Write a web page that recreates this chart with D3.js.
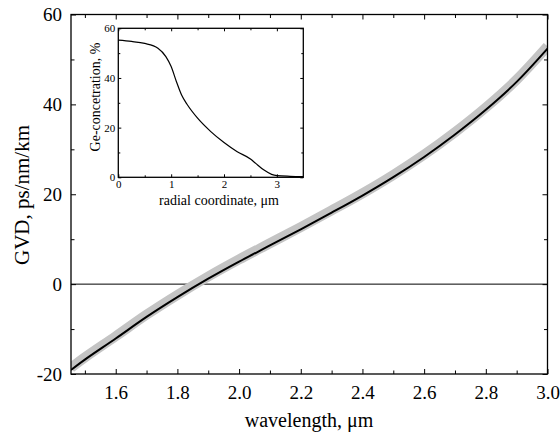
<!DOCTYPE html>
<html><head><meta charset="utf-8">
<script src="https://cdn.jsdelivr.net/npm/d3@7"></script>
<style>body{margin:0;background:#fff}svg{display:block}</style>
</head><body>
<svg id="c" width="560" height="435"></svg>
<script>
// Main chart data
const wavelength = [1.455,1.5,1.6,1.7,1.8,1.9,2.0,2.1,2.2,2.3,2.4,2.5,2.6,2.7,2.8,2.9,3.0];
const gvdCalc    = [-19.1,-16.8,-12.1,-7.3,-2.9,1.2,5.0,8.6,12.2,15.9,19.7,23.8,28.3,33.3,38.8,45.0,52.4];
const gvdMeas    = [-18.6,-16.3,-11.6,-6.8,-2.4,1.7,5.5,9.1,12.7,16.4,20.2,24.3,28.8,33.8,39.3,45.5,52.9];
const xTicks = [1.6,1.8,2.0,2.2,2.4,2.6,2.8,3.0];
const yTicks = [-20,0,20,40,60];
// Inset data
const radius = [0,0.25,0.5,0.75,0.9,1.0,1.1,1.2,1.3,1.5,1.75,2.0,2.25,2.5,2.6,2.75,2.9,3.0,3.25,3.5];
const geConc = [55.2,54.7,53.9,52.0,48.6,44.6,38.5,33.0,29.4,23.8,18.4,14.0,10.3,7.4,5.6,3.0,1.2,0.7,0.4,0.27];
const insetXTicks = [0,1,2,3];
const insetYTicks = [0,20,40,60];

const FONT = "Liberation Serif";
const svg = d3.select("#c");
const x = d3.scaleLinear().domain([1.455,3.0]).range([71,547.5]);
const y = d3.scaleLinear().domain([-20,60]).range([374,14.5]);

svg.append("line").attr("x1",x(1.455)).attr("x2",x(3.0)).attr("y1",y(0)).attr("y2",y(0)).attr("stroke","#000").attr("stroke-width",1);

svg.append("clipPath").attr("id","clp").append("rect").attr("x",71).attr("y",14.5).attr("width",476.5).attr("height",359.5);
const line = d3.line().x((d,i)=>x(wavelength[i])).y(d=>y(d)).curve(d3.curveCatmullRom);
const g = svg.append("g").attr("clip-path","url(#clp)");
g.append("path").datum(gvdMeas).attr("d",line).attr("fill","none").attr("stroke","#c4c4c4").attr("stroke-width",10);
g.append("path").datum(gvdCalc).attr("d",line).attr("fill","none").attr("stroke","#000").attr("stroke-width",2);

function axes(sel, xs, ys, xt, yt, xMinor, yMinor, major, minor, fontSize, xpad, ypad, xfmt){
  const h = ys.range()[0]-ys.range()[1], w = xs.range()[1]-xs.range()[0];
  const put = (axis, tr) => sel.append("g").attr("transform",tr).call(axis);
  const B = `translate(0,${ys.range()[0]})`, T = `translate(0,${ys.range()[1]})`;
  const L = `translate(${xs.range()[0]},0)`, R = `translate(${xs.range()[1]},0)`;
  put(d3.axisBottom(xs).tickValues(xMinor).tickSize(-minor).tickFormat(""), B);
  put(d3.axisBottom(xs).tickValues(xt).tickSize(-major).tickPadding(major+xpad).tickFormat(xfmt), B);
  put(d3.axisTop(xs).tickValues(xMinor).tickSize(-minor).tickFormat(""), T);
  put(d3.axisTop(xs).tickValues(xt).tickSize(-major).tickFormat(""), T);
  put(d3.axisLeft(ys).tickValues(yMinor).tickSize(-minor).tickFormat(""), L);
  put(d3.axisLeft(ys).tickValues(yt).tickSize(-major).tickPadding(major+ypad).tickFormat(d=>String(d)), L);
  put(d3.axisRight(ys).tickValues(yMinor).tickSize(-minor).tickFormat(""), R);
  put(d3.axisRight(ys).tickValues(yt).tickSize(-major).tickFormat(""), R);
  sel.selectAll("g").attr("font-family",FONT).attr("font-size",fontSize);
  sel.selectAll(".domain").remove();
  sel.selectAll(".tick line").attr("stroke","#000");
  sel.selectAll(".tick text").attr("font-family",FONT).attr("font-size",fontSize).attr("fill","#000");
  sel.append("rect").attr("x",xs.range()[0]).attr("y",ys.range()[1]).attr("width",w).attr("height",h)
    .attr("fill","none").attr("stroke","#000").attr("stroke-width",1.3);
}
const mainAx = svg.append("g");
axes(mainAx, x, y, xTicks, yTicks, [1.5,1.7,1.9,2.1,2.3,2.5,2.7,2.9], [-10,10,30,50], 5, 3.5, 19, 7, 4, d=>d.toFixed(1));

svg.append("text").attr("x",309).attr("y",427).attr("text-anchor","middle").attr("font-family",FONT).attr("font-size",20).text("wavelength, μm");
svg.append("text").attr("transform","translate(29,195) rotate(-90)").attr("text-anchor","middle").attr("font-family",FONT).attr("font-size",21).text("GVD, ps/nm/km");

const xi = d3.scaleLinear().domain([0,3.5]).range([118.3,303.3]);
const yi = d3.scaleLinear().domain([0,60]).range([177.3,28.3]);
const ins = svg.append("g");
ins.append("rect").attr("x",118.3).attr("y",28.3).attr("width",185).attr("height",149).attr("fill","#fff");
const lineI = d3.line().x((d,i)=>xi(radius[i])).y(d=>yi(d)).curve(d3.curveMonotoneX);
ins.append("path").datum(geConc).attr("d",lineI).attr("fill","none").attr("stroke","#000").attr("stroke-width",1.2);
axes(ins, xi, yi, insetXTicks, insetYTicks, [0.5,1.5,2.5], [10,30,50], 3, 2, 11, 0, 0, d=>String(d));
ins.append("text").attr("x",219).attr("y",205).attr("text-anchor","middle").attr("font-family",FONT).attr("font-size",14).text("radial coordinate, μm");
ins.append("text").attr("transform","translate(100,97) rotate(-90)").attr("text-anchor","middle").attr("font-family",FONT).attr("font-size",14).text("Ge-concetration, %");
</script>
</body></html>
